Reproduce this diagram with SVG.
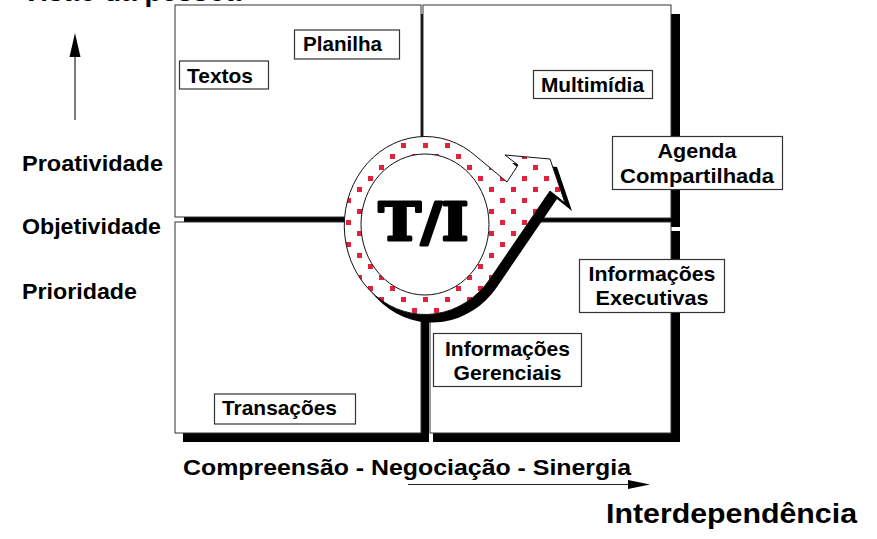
<svg xmlns="http://www.w3.org/2000/svg" width="877" height="539" viewBox="0 0 877 539">
<style>
.q{fill:#fff;stroke:#333;stroke-width:1}
.sh{fill:#000}
.lb{fill:#fff;stroke:#333;stroke-width:1.2}
.t{font-family:"Liberation Sans",Arial,sans-serif;font-weight:bold;fill:#000}
.ax{stroke:#222;stroke-width:1.2;fill:none}
</style>
<defs>
<pattern id="dots" width="22" height="22" patternUnits="userSpaceOnUse">
<rect width="22" height="22" fill="#fff"/>
<rect x="16" y="0" width="5" height="5" fill="#e3213b"/>
<rect x="5" y="11" width="5" height="5" fill="#e3213b"/>
</pattern>
</defs>
<rect width="877" height="539" fill="#fff"/>

<text class="t" x="22" y="0.8" font-size="29" textLength="219" lengthAdjust="spacingAndGlyphs">Visão da pessoa</text>

<g id="quadrant-tl"><rect class="sh" x="184" y="14" width="246" height="212"/><rect class="q" x="175" y="5" width="246" height="212"/></g>
<g id="quadrant-tr"><rect class="sh" x="432" y="14" width="248" height="213"/><rect class="q" x="423" y="5" width="248" height="213"/></g>
<g id="quadrant-bl"><rect class="sh" x="183" y="231" width="246" height="211"/><rect class="q" x="175" y="222" width="246" height="211"/></g>
<g id="quadrant-br"><rect class="sh" x="433" y="231" width="247" height="211"/><rect class="q" x="430" y="222" width="241" height="211"/></g>

<g id="ti-cycle">
<path class="sh" transform="translate(7,8)" d="M507,182 L518,165 L505,155 L550,159 L565,203 L550,191 L490,279 A81,89 0 1 1 477,157 Z"/>
<path d="M507,182 L518,165 L505,155 L550,159 L565,203 L550,191 L490,279 A81,89 0 1 1 477,157 Z" fill="url(#dots)" stroke="#111" stroke-width="1"/>
<ellipse cx="425" cy="224.5" rx="64" ry="70.5" fill="#fff" stroke="#111" stroke-width="1"/>
<text x="423.5" y="240" text-anchor="middle" font-family="'DejaVu Serif','Liberation Serif',serif" font-weight="bold" font-size="52" textLength="90" lengthAdjust="spacingAndGlyphs" stroke="#000" stroke-width="3" stroke-linejoin="round">T/I</text>
</g>

<g id="label-textos"><rect class="lb" x="179.5" y="61" width="89" height="28"/><text class="t" x="187" y="82.5" font-size="21" textLength="66" lengthAdjust="spacingAndGlyphs">Textos</text></g>
<g id="label-planilha"><rect class="lb" x="294.5" y="30" width="105" height="29"/><text class="t" x="303" y="51" font-size="21" textLength="79" lengthAdjust="spacingAndGlyphs">Planilha</text></g>
<g id="label-multimidia"><rect class="lb" x="533.5" y="70.5" width="119" height="28"/><text class="t" x="541" y="91.5" font-size="21" textLength="103" lengthAdjust="spacingAndGlyphs">Multimídia</text></g>
<g id="label-agenda"><rect class="lb" x="612.5" y="136.5" width="170" height="53"/><text class="t" x="697" y="158" font-size="21" text-anchor="middle" textLength="79" lengthAdjust="spacingAndGlyphs">Agenda</text><text class="t" x="697" y="183" font-size="21" text-anchor="middle" textLength="154" lengthAdjust="spacingAndGlyphs">Compartilhada</text></g>
<g id="label-executivas"><rect class="lb" x="579.5" y="259.5" width="145" height="53"/><text class="t" x="652" y="281" font-size="21" text-anchor="middle" textLength="127" lengthAdjust="spacingAndGlyphs">Informações</text><text class="t" x="652" y="305" font-size="21" text-anchor="middle" textLength="113" lengthAdjust="spacingAndGlyphs">Executivas</text></g>
<g id="label-gerenciais"><rect class="lb" x="433.5" y="333.5" width="148" height="53"/><text class="t" x="507.5" y="356" font-size="21" text-anchor="middle" textLength="125" lengthAdjust="spacingAndGlyphs">Informações</text><text class="t" x="507.5" y="380" font-size="21" text-anchor="middle" textLength="108" lengthAdjust="spacingAndGlyphs">Gerenciais</text></g>
<g id="label-transacoes"><rect class="lb" x="214.5" y="394" width="141" height="30"/><text class="t" x="222" y="415" font-size="21" textLength="115" lengthAdjust="spacingAndGlyphs">Transações</text></g>

<g id="axis-y-labels">
<text class="t" x="22" y="171" font-size="22" textLength="141" lengthAdjust="spacingAndGlyphs">Proatividade</text>
<text class="t" x="22" y="234" font-size="22" textLength="139" lengthAdjust="spacingAndGlyphs">Objetividade</text>
<text class="t" x="22" y="299" font-size="22" textLength="115" lengthAdjust="spacingAndGlyphs">Prioridade</text>
</g>
<g id="axis-x-labels">
<text class="t" x="183" y="475" font-size="22" textLength="448" lengthAdjust="spacingAndGlyphs">Compreensão - Negociação - Sinergia</text>
<text class="t" x="606" y="523" font-size="28" textLength="251" lengthAdjust="spacingAndGlyphs">Interdependência</text>
</g>

<g id="connectors">
<line class="ax" x1="75" y1="55" x2="75" y2="120"/>
<polygon points="75,33 69.5,57 80.5,57" fill="#000"/>
<line class="ax" x1="408" y1="484.5" x2="630" y2="484.5"/>
<polygon points="650,484.5 628,480 628,489" fill="#000"/>
</g>
</svg>
